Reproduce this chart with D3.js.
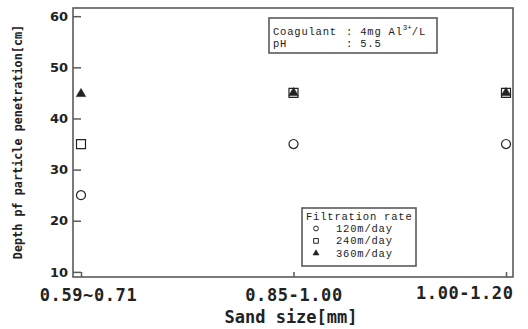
<!DOCTYPE html>
<html>
<head>
<meta charset="utf-8">
<script src="https://cdn.jsdelivr.net/npm/d3@7/dist/d3.min.js"></script>
<style>
  body { margin: 0; background: #fff; }
  svg { display: block; }
</style>
</head>
<body>
<div id="chart"></div>
<script>
// Chart data
const sandSizes = ["0.59~0.71", "0.85-1.00", "1.00-1.20"];
const rate120 = [25, 35, 35];
const rate240 = [35, 45, 45];
const rate360 = [44.8, 45, 45];
const yTicks = [10, 20, 30, 40, 50, 60];
const legendLabels = ["120m/day", "240m/day", "360m/day"];

const width = 528;
const height = 329;
const margin = { top: 8, right: 15, bottom: 52, left: 73 };
const ink = "#222";
const frame = "#5a5a5a";

const svg = d3
  .select("#chart")
  .append("svg")
  .attr("width", width)
  .attr("height", height);

const x = d3
  .scalePoint()
  .domain(sandSizes)
  .range([81, 506]);

const y = d3
  .scaleLinear()
  .domain([9, 61.6])
  .range([height - margin.bottom, margin.top]);

// Frame
svg
  .append("rect")
  .attr("x", margin.left)
  .attr("y", margin.top)
  .attr("width", width - margin.left - margin.right)
  .attr("height", height - margin.top - margin.bottom)
  .attr("fill", "none")
  .attr("stroke", frame)
  .attr("stroke-width", 1.6);

// Y axis (ticks pointing inward)
const yAxis = svg
  .append("g")
  .attr("transform", `translate(${margin.left},0)`)
  .call(
    d3.axisLeft(y).tickValues(yTicks).tickSizeInner(-8).tickSizeOuter(0).tickPadding(5)
  );
yAxis.select(".domain").remove();
yAxis.selectAll("line").attr("stroke", frame).attr("stroke-width", 1.5);
yAxis
  .selectAll("text")
  .attr("fill", ink)
  .style("font-family", "DejaVu Sans")
  .style("font-weight", "bold")
  .style("font-size", "13px");

// X axis (ticks pointing inward)
const xAxis = svg
  .append("g")
  .attr("transform", `translate(0,${height - margin.bottom})`)
  .call(d3.axisBottom(x).tickSizeInner(-5).tickSizeOuter(0).tickPadding(14));
xAxis.select(".domain").remove();
xAxis.selectAll("line").attr("stroke", frame).attr("stroke-width", 1.5);
xAxis
  .selectAll("text")
  .attr("fill", ink)
  .style("font-family", "DejaVu Sans Mono")
  .style("font-weight", "bold")
  .style("font-size", "17px")
  .style("letter-spacing", "0.6px")
  .attr("text-anchor", (d, i) => (i === sandSizes.length - 1 ? "end" : "middle"))
  .attr("dx", (d, i) => (i === 0 ? 7 : i === sandSizes.length - 1 ? 7 : 0))
  .attr("dy", (d, i) => (i === sandSizes.length - 1 ? "0.45em" : "0.6em"));

// Axis titles
svg
  .append("text")
  .attr("x", 291)
  .attr("y", 323)
  .attr("text-anchor", "middle")
  .attr("fill", ink)
  .style("font-family", "DejaVu Sans Mono")
  .style("font-weight", "bold")
  .style("font-size", "17px")
  .text("Sand size[mm]");

svg
  .append("text")
  .attr("transform", "translate(22,142) rotate(-90)")
  .attr("text-anchor", "middle")
  .attr("fill", ink)
  .style("font-family", "DejaVu Sans Mono")
  .style("font-weight", "bold")
  .style("font-size", "11.8px")
  .text("Depth pf particle penetration[cm]");

// Markers
const circle = d3.symbol().type(d3.symbolCircle).size(64);
const square = d3.symbol().type(d3.symbolSquare).size(81);
const triangle = d3.symbol().type(d3.symbolTriangle).size(38);

const series = [
  { values: rate120, sym: circle, filled: false },
  { values: rate240, sym: square, filled: false },
  { values: rate360, sym: triangle, filled: true }
];

series.forEach((s) => {
  svg
    .append("g")
    .selectAll("path")
    .data(s.values)
    .join("path")
    .attr("d", s.sym)
    .attr("transform", (d, i) => `translate(${x(sandSizes[i])},${y(d)})`)
    .attr("fill", s.filled ? ink : "none")
    .attr("stroke", ink)
    .attr("stroke-width", s.filled ? 0.6 : 1.2);
});

const boxFont = (sel) =>
  sel
    .attr("fill", ink)
    .style("font-family", "Liberation Mono")
    .style("font-size", "10.5px")
    .style("letter-spacing", "0.8px");

// Annotation box
const note = svg.append("g");
note
  .append("rect")
  .attr("x", 269)
  .attr("y", 18)
  .attr("width", 168)
  .attr("height", 35)
  .attr("fill", "#fff")
  .attr("stroke", frame)
  .attr("stroke-width", 1.6);

const noteText = note.append("text").call(boxFont);
noteText.append("tspan").attr("x", 273).attr("y", 35).text("Coagulant");
noteText.append("tspan").attr("x", 346).attr("y", 35).text(": 4mg Al");
noteText.append("tspan").attr("dy", -5).style("font-size", "7.5px").style("letter-spacing", "0px").text("3+");
noteText.append("tspan").attr("dy", 5).text("/L");
noteText.append("tspan").attr("x", 273).attr("y", 47).text("pH");
noteText.append("tspan").attr("x", 346).attr("y", 47).text(": 5.5");

// Legend box
const legend = svg.append("g");
legend
  .append("rect")
  .attr("x", 302)
  .attr("y", 208)
  .attr("width", 114)
  .attr("height", 58)
  .attr("fill", "#fff")
  .attr("stroke", frame)
  .attr("stroke-width", 1.6);

const legendText = legend.append("text").call(boxFont);
legendText.append("tspan").attr("x", 306).attr("y", 220).text("Filtration rate");

const legendSyms = [
  d3.symbol().type(d3.symbolCircle).size(18),
  d3.symbol().type(d3.symbolSquare).size(22),
  d3.symbol().type(d3.symbolTriangle).size(16)
];

legendLabels.forEach((label, i) => {
  const yy = 232 + i * 12.4;
  legend
    .append("path")
    .attr("d", legendSyms[i])
    .attr("transform", `translate(316,${yy - 3.5})`)
    .attr("fill", i === 2 ? ink : "none")
    .attr("stroke", ink)
    .attr("stroke-width", i === 2 ? 0.5 : 1);
  legendText.append("tspan").attr("x", 336).attr("y", yy).text(label);
});
</script>
</body>
</html>
